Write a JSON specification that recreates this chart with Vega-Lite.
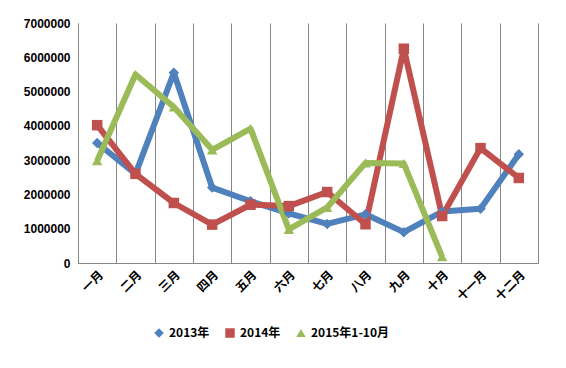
{
  "$schema": "https://vega.github.io/schema/vega-lite/v6.json",
  "width": 460,
  "height": 240,
  "autosize": {"type": "none"},
  "padding": {"left": 78, "top": 23, "right": 28, "bottom": 105},
  "background": "white",
  "data": {
    "values": [
      {"month": "一月", "series": "2013年", "value": 3500000},
      {"month": "二月", "series": "2013年", "value": 2600000},
      {"month": "三月", "series": "2013年", "value": 5550000},
      {"month": "四月", "series": "2013年", "value": 2200000},
      {"month": "五月", "series": "2013年", "value": 1800000},
      {"month": "六月", "series": "2013年", "value": 1450000},
      {"month": "七月", "series": "2013年", "value": 1140000},
      {"month": "八月", "series": "2013年", "value": 1420000},
      {"month": "九月", "series": "2013年", "value": 900000},
      {"month": "十月", "series": "2013年", "value": 1500000},
      {"month": "十一月", "series": "2013年", "value": 1580000},
      {"month": "十二月", "series": "2013年", "value": 3170000},
      {"month": "一月", "series": "2014年", "value": 4020000},
      {"month": "二月", "series": "2014年", "value": 2600000},
      {"month": "三月", "series": "2014年", "value": 1750000},
      {"month": "四月", "series": "2014年", "value": 1120000},
      {"month": "五月", "series": "2014年", "value": 1700000},
      {"month": "六月", "series": "2014年", "value": 1660000},
      {"month": "七月", "series": "2014年", "value": 2070000},
      {"month": "八月", "series": "2014年", "value": 1130000},
      {"month": "九月", "series": "2014年", "value": 6250000},
      {"month": "十月", "series": "2014年", "value": 1370000},
      {"month": "十一月", "series": "2014年", "value": 3350000},
      {"month": "十二月", "series": "2014年", "value": 2480000},
      {"month": "一月", "series": "2015年1-10月", "value": 2980000},
      {"month": "二月", "series": "2015年1-10月", "value": 5500000},
      {"month": "三月", "series": "2015年1-10月", "value": 4550000},
      {"month": "四月", "series": "2015年1-10月", "value": 3300000},
      {"month": "五月", "series": "2015年1-10月", "value": 3920000},
      {"month": "六月", "series": "2015年1-10月", "value": 980000},
      {"month": "七月", "series": "2015年1-10月", "value": 1620000},
      {"month": "八月", "series": "2015年1-10月", "value": 2920000},
      {"month": "九月", "series": "2015年1-10月", "value": 2900000},
      {"month": "十月", "series": "2015年1-10月", "value": 180000}
    ]
  },
  "encoding": {
    "x": {
      "field": "month",
      "type": "ordinal",
      "sort": ["一月", "二月", "三月", "四月", "五月", "六月", "七月", "八月", "九月", "十月", "十一月", "十二月"],
      "bandPosition": 0.5,
      "scale": {"type": "band", "paddingInner": 0, "paddingOuter": 0},
      "axis": {
        "title": null,
        "tickBand": "extent",
        "grid": true,
        "gridColor": "#868686",
        "gridWidth": 1,
        "gridOpacity": 1,
        "ticks": false,
        "domainColor": "#868686",
        "labelAngle": -45,
        "labelFont": "Noto Sans CJK SC",
        "labelFontWeight": "bold",
        "labelFontSize": 12,
        "labelColor": "#000000",
        "labelPadding": 6
      }
    },
    "y": {
      "field": "value",
      "type": "quantitative",
      "scale": {"domain": [0, 7000000]},
      "axis": {
        "title": null,
        "values": [0, 1000000, 2000000, 3000000, 4000000, 5000000, 6000000, 7000000],
        "format": "d",
        "grid": false,
        "ticks": false,
        "domainColor": "#868686",
        "labelFont": "Liberation Sans",
        "labelFontWeight": "bold",
        "labelFontSize": 12,
        "labelColor": "#000000",
        "labelPadding": 8
      }
    },
    "color": {
      "field": "series",
      "type": "nominal",
      "scale": {"domain": ["2013年", "2014年", "2015年1-10月"], "range": ["#4F81BD", "#C0504D", "#9BBB59"]},
      "legend": {
        "title": null,
        "orient": "none",
        "direction": "horizontal",
        "legendX": 75,
        "legendY": 304,
        "labelFont": "Noto Sans CJK SC",
        "labelFontWeight": "bold",
        "labelFontSize": 12,
        "labelColor": "#000000",
        "symbolSize": 90,
        "symbolStrokeWidth": 0,
        "columnPadding": 14
      }
    },
    "shape": {
      "field": "series",
      "type": "nominal",
      "scale": {"domain": ["2013年", "2014年", "2015年1-10月"], "range": ["diamond", "square", "triangle-up"]},
      "legend": null
    }
  },
  "layer": [
    {
      "mark": {"type": "line", "strokeWidth": 6, "strokeJoin": "round"},
      "encoding": {"detail": {"field": "series"}, "shape": null}
    },
    {
      "mark": {"type": "point", "filled": true, "opacity": 1, "size": 110},
      "encoding": {"detail": {"field": "series"}}
    }
  ],
  "config": {
    "view": {"stroke": null}
  }
}
